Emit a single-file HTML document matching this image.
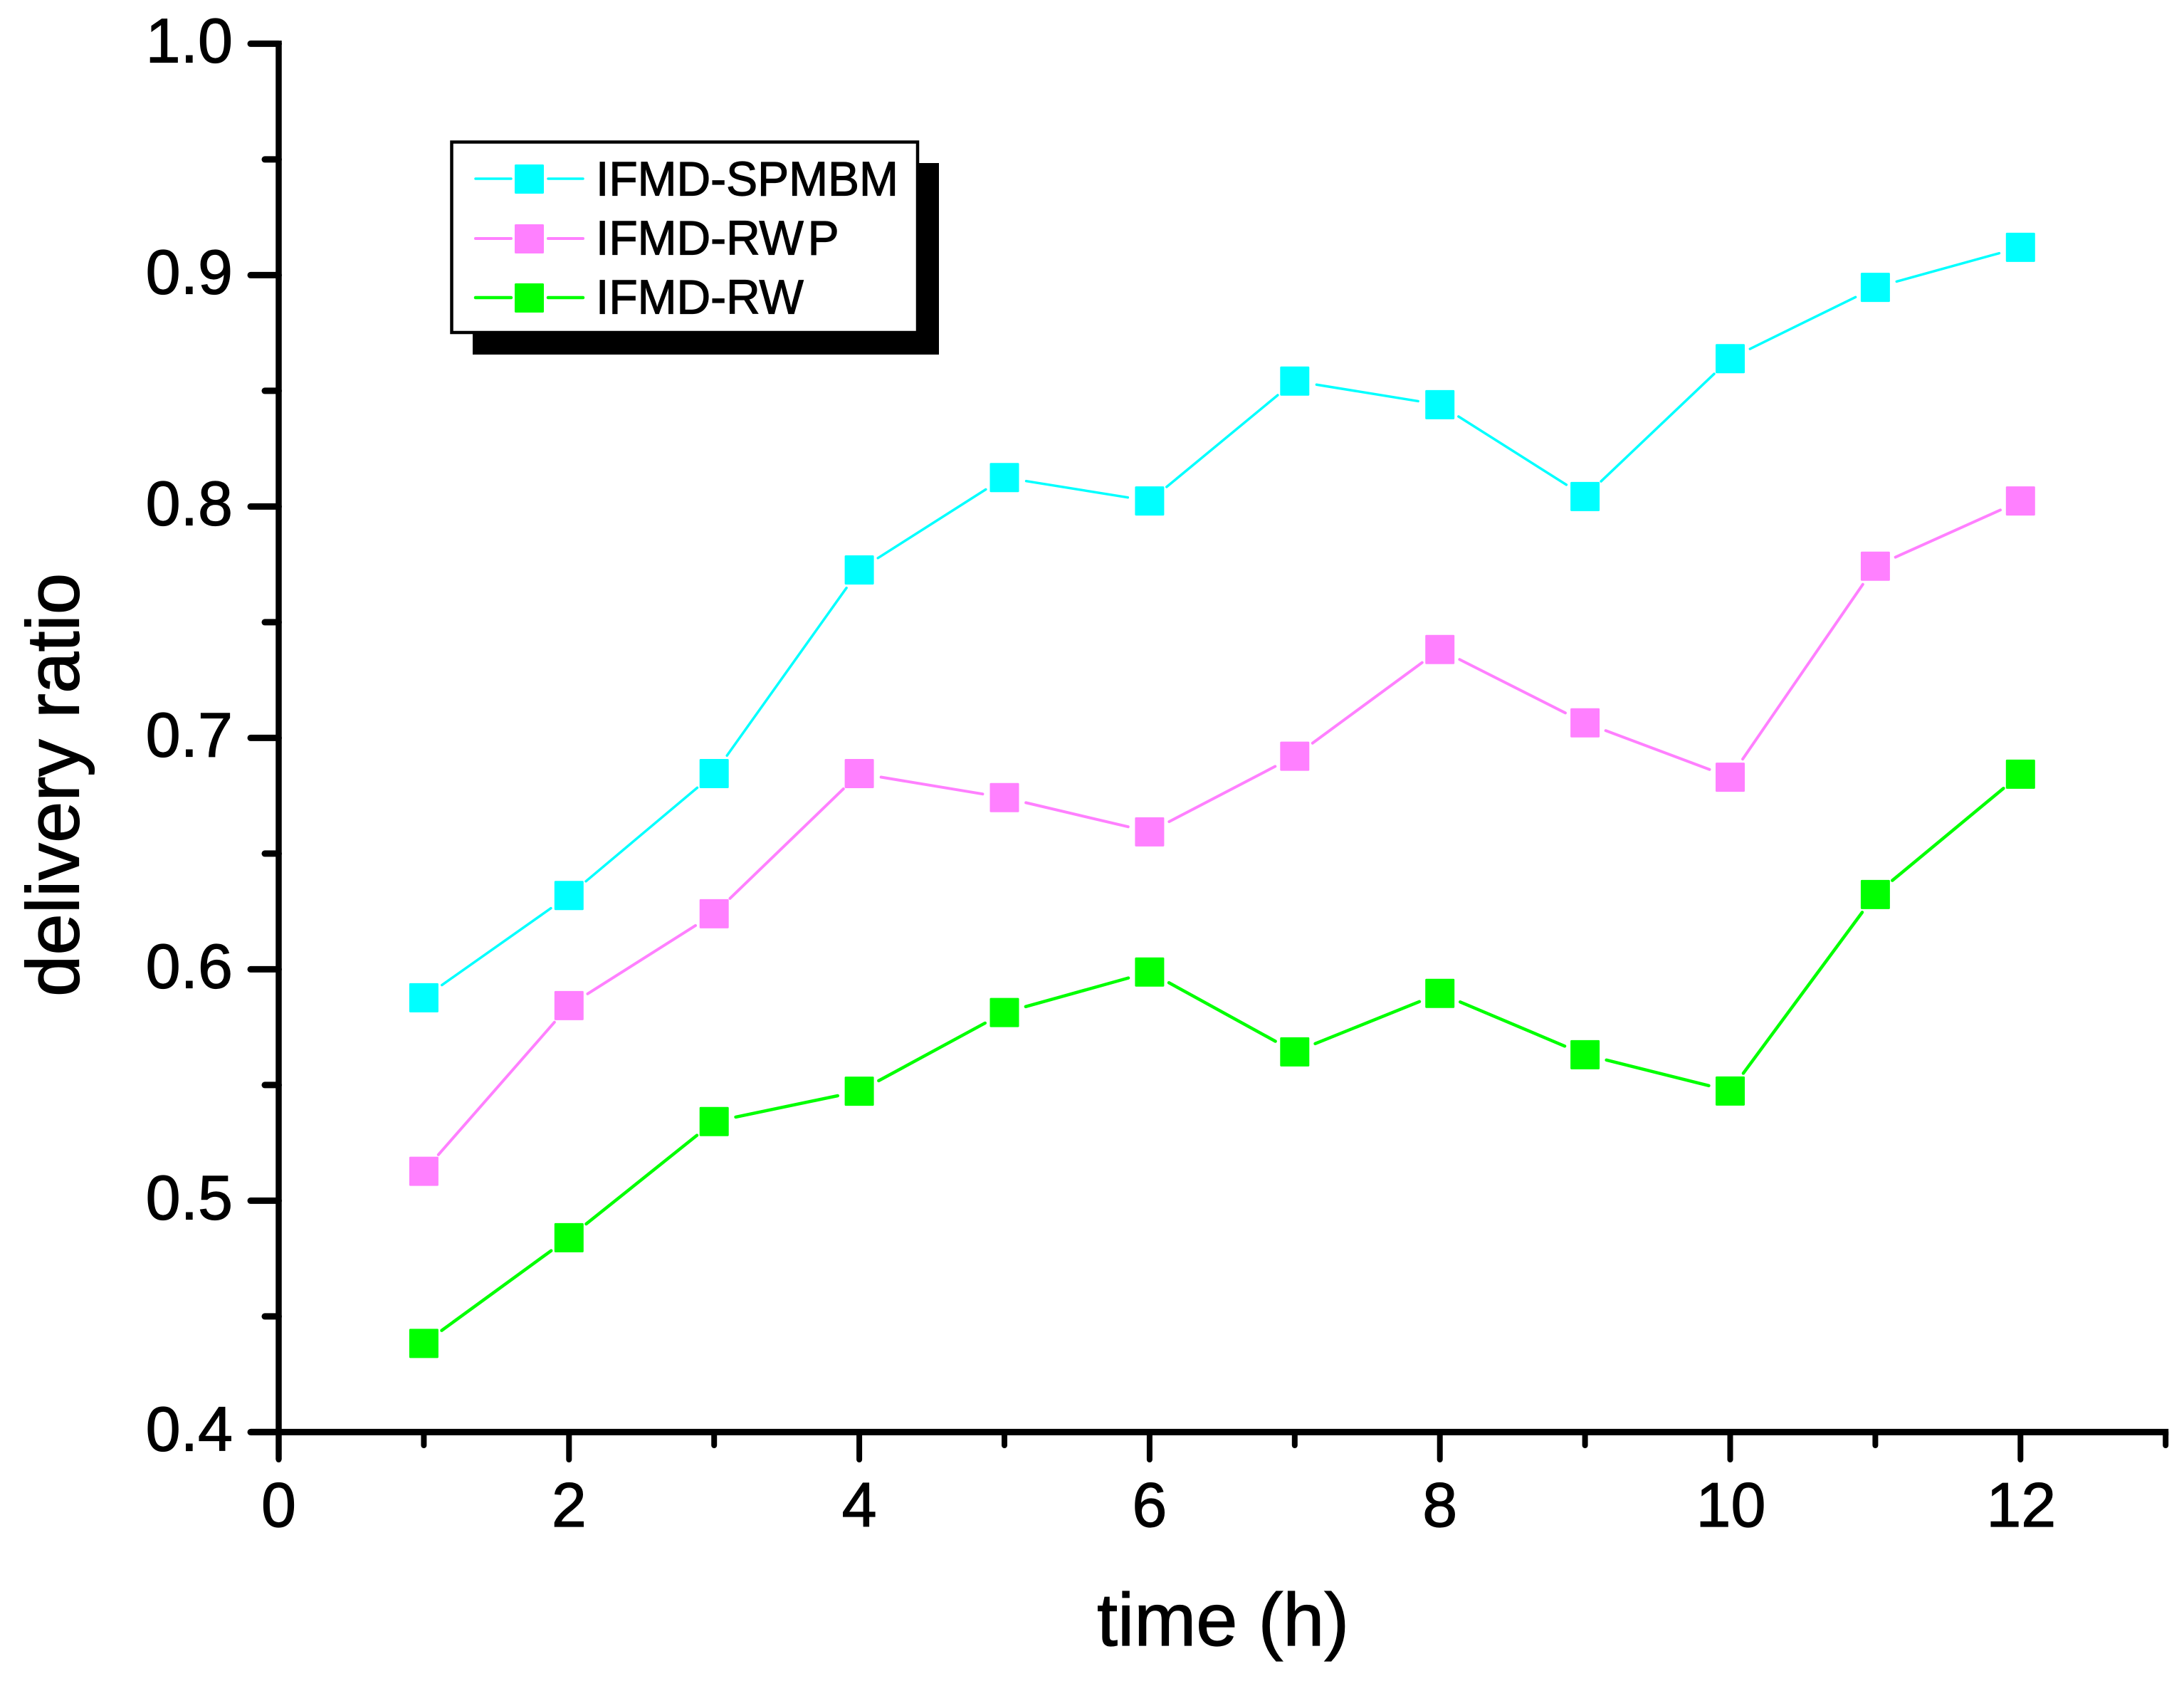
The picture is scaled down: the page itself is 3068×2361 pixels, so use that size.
<!DOCTYPE html>
<html lang="en">
<head>
<meta charset="utf-8">
<title>Delivery ratio over time</title>
<style>
  html, body { margin: 0; padding: 0; background: #fff; }
  svg { display: block; }
  text { font-family: "Liberation Sans", Arial, sans-serif; fill: #000; stroke: #000; stroke-width: 1.2px; }
</style>
</head>
<body>
<svg id="chart" xmlns="http://www.w3.org/2000/svg" width="3068" height="2361" viewBox="0 0 3068 2361">
  <rect x="0" y="0" width="3068" height="2361" fill="#ffffff"/>
  <g id="axes"></g>
  <g id="series"></g>

  <g>
    <rect x="664" y="229" width="655" height="269" fill="#000"/>
    <rect x="634.5" y="199.5" width="654.5" height="267.5" fill="#fff" stroke="#000" stroke-width="4.5"/>

    <g>
      <line x1="668" y1="251" x2="718" y2="251" stroke="#00ffff" stroke-width="3.5" stroke-linecap="round"/>
      <line x1="770" y1="251" x2="819" y2="251" stroke="#00ffff" stroke-width="3.5" stroke-linecap="round"/>
      <rect x="723" y="231" width="41" height="41" rx="1.5" fill="#00ffff"/>
      <text transform="translate(837 274.7) scale(.97 1)" font-size="68">IFMD-SPMBM</text>
    </g>
    <g>
      <line x1="668" y1="335" x2="718" y2="335" stroke="#ff80ff" stroke-width="4" stroke-linecap="round"/>
      <line x1="770" y1="335" x2="819" y2="335" stroke="#ff80ff" stroke-width="4" stroke-linecap="round"/>
      <rect x="723" y="315" width="41" height="41" rx="1.5" fill="#ff80ff"/>
      <text transform="translate(837 357.7) scale(.97 1)" font-size="68">IFMD-RW<tspan dx="6">P</tspan></text>
    </g>
    <g>
      <line x1="668" y1="418" x2="718" y2="418" stroke="#00ff00" stroke-width="4.5" stroke-linecap="round"/>
      <line x1="770" y1="418" x2="819" y2="418" stroke="#00ff00" stroke-width="4.5" stroke-linecap="round"/>
      <rect x="723" y="398" width="41" height="41" rx="1.5" fill="#00ff00"/>
      <text transform="translate(837 440.7) scale(.97 1)" font-size="68">IFMD-RW</text>
    </g>
  </g>

  <text x="1541" y="2311" font-size="104.5">time (h)</text>
  <text transform="translate(110.7 1400) rotate(-90)" font-size="105">delivery ratio</text>
</svg>

<script>
const hours = [1, 2, 3, 4, 5, 6, 7, 8, 9, 10, 11, 12];
const spmbmValues = [0.5877, 0.6319, 0.6846, 0.7726, 0.8125, 0.8024, 0.8542, 0.8440, 0.8043, 0.8639, 0.8947, 0.9120];
const rwpValues = [0.5127, 0.5843, 0.6240, 0.6846, 0.6742, 0.6594, 0.6921, 0.7382, 0.7065, 0.6830, 0.7742, 0.8024];
const rwValues = [0.4383, 0.4840, 0.5342, 0.5473, 0.5813, 0.5988, 0.5643, 0.5896, 0.5631, 0.5474, 0.6323, 0.6843];
const xMajorTicks = [0, 2, 4, 6, 8, 10, 12];
const xMinorTicks = [1, 3, 5, 7, 9, 11, 13];
const yMajorTicks = [0.4, 0.5, 0.6, 0.7, 0.8, 0.9, 1.0];
const yMinorTicks = [0.45, 0.55, 0.65, 0.75, 0.85, 0.95];
const yTickLabels = ['0.4', '0.5', '0.6', '0.7', '0.8', '0.9', '1.0'];

const NS = 'http://www.w3.org/2000/svg';
function xScale(v) { return 391.5 + v * 203.9; }
function yScale(v) { return 61.4 + (1 - v) * 3250; }

function make(tag, attrs, parent) {
  const el = document.createElementNS(NS, tag);
  for (const k in attrs) el.setAttribute(k, attrs[k]);
  parent.appendChild(el);
  return el;
}

const axes = document.getElementById('axes');
const seriesLayer = document.getElementById('series');
const axisBottom = yScale(0.4);
const axisLeft = xScale(0);

yMajorTicks.forEach(function (v, i) {
  const y = yScale(v);
  const tick = make('line', { x1: axisLeft, y1: y, x2: 352, y2: y, stroke: '#000', 'stroke-width': 9, 'stroke-linecap': 'round' }, axes);
  
  
  const label = make('text', { x: 327, y: y + 26, 'font-size': 88, 'text-anchor': 'end' }, axes);
  label.textContent = yTickLabels[i];
  
  
});

yMinorTicks.forEach(function (v) {
  const y = yScale(v);
  const tick = make('line', { x1: axisLeft, y1: y, x2: 372, y2: y, stroke: '#000', 'stroke-width': 9, 'stroke-linecap': 'round' }, axes);
  
  
});

xMajorTicks.forEach(function (v) {
  const x = xScale(v);
  const tick = make('line', { x1: x, y1: axisBottom, x2: x, y2: 2050, stroke: '#000', 'stroke-width': 8, 'stroke-linecap': 'round' }, axes);
  
  
  const label = make('text', { x: x + (v >= 10 ? 1 : 0), y: 2144, 'font-size': 88, 'text-anchor': 'middle' }, axes);
  label.textContent = String(v);
  
  
});

xMinorTicks.forEach(function (v) {
  const x = xScale(v);
  const tick = make('line', { x1: x, y1: axisBottom, x2: x, y2: 2030, stroke: '#000', 'stroke-width': 8, 'stroke-linecap': 'round' }, axes);
  
  
});

const yAxisLine = make('line', { x1: axisLeft, y1: 57, x2: axisLeft, y2: 2050, stroke: '#000', 'stroke-width': 8.5 }, axes);



const xAxisLine = make('line', { x1: 352, y1: axisBottom, x2: xScale(13) + 4, y2: axisBottom, stroke: '#000', 'stroke-width': 9 }, axes);



const GAP = 31;
const MARKER = 41;

function drawSeries(group, values, color, width) {
  for (let i = 0; i < hours.length - 1; i++) {
    const x1 = xScale(hours[i]), y1 = yScale(values[i]);
    const x2 = xScale(hours[i + 1]), y2 = yScale(values[i + 1]);
    const len = Math.hypot(x2 - x1, y2 - y1);
    const ux = (x2 - x1) / len, uy = (y2 - y1) / len;
    const seg = make('line', {
      x1: x1 + ux * GAP, y1: y1 + uy * GAP,
      x2: x2 - ux * GAP, y2: y2 - uy * GAP,
      stroke: color, 'stroke-width': width, 'stroke-linecap': 'round'
    }, group);
    
    
  }
  values.forEach(function (v, i) {
    const pt = make('rect', {
      x: xScale(hours[i]) - MARKER / 2, y: yScale(v) - MARKER / 2,
      width: MARKER, height: MARKER, rx: 1.5, fill: color
    }, group);
    
    
  });
}

const spmbmGroup = make('g', {}, seriesLayer);


drawSeries(spmbmGroup, spmbmValues, '#00ffff', 3.5);

const rwpGroup = make('g', {}, seriesLayer);


drawSeries(rwpGroup, rwpValues, '#ff80ff', 4);

const rwGroup = make('g', {}, seriesLayer);


drawSeries(rwGroup, rwValues, '#00ff00', 4.5);
</script>
</body>
</html>
